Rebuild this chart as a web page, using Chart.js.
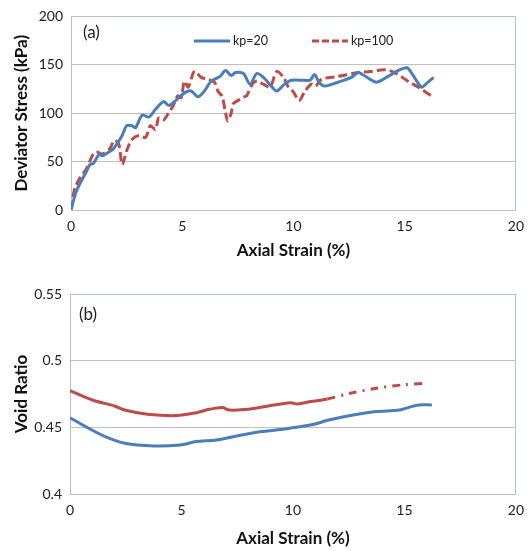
<!DOCTYPE html>
<html>
<head>
<meta charset="utf-8">
<script src="https://cdn.jsdelivr.net/npm/chart.js@4"></script>
<style>
	body { margin: 0; background: #fff; }
	canvas { display: block; }
</style>
</head>
<body>
<canvas id="chartA" width="532" height="270"></canvas>
<canvas id="chartB" width="532" height="281"></canvas>
<script>
// (a) deviator stress vs axial strain
const strainA20 = [0, 0.25, 0.7, 0.85, 1.0, 1.28, 1.4, 1.7, 1.9, 2.3, 2.5, 2.75, 2.9, 3.2, 3.5, 3.8, 4.16, 4.4, 4.7, 5.1, 5.4, 5.7, 6.0, 6.3, 6.7, 6.95, 7.2, 7.4, 7.75, 8.05, 8.35, 8.65, 9.0, 9.25, 9.6, 9.9, 10.5, 10.75, 10.95, 11.15, 11.4, 12.0, 12.6, 12.9, 13.1, 13.45, 13.75, 14.25, 14.7, 15.1, 15.3, 15.75, 16.0, 16.3]
const stressA20 = [0, 20, 40, 47, 48, 58, 56, 60, 63, 77, 87, 87, 85, 98, 96, 104, 112, 108, 113, 121, 123, 117, 123, 133, 138, 144, 139, 142, 141, 130, 141, 137, 128, 123, 130, 134, 134, 134, 140, 132, 128, 132, 137, 142, 140, 135, 132, 138, 144, 147, 142, 127, 131, 137]
const strainA100 = [0, 0.1, 0.18, 0.4, 0.7, 0.98, 1.14, 1.4, 1.73, 1.95, 2.15, 2.3, 2.53, 2.75, 3.05, 3.35, 3.57, 3.8, 3.94, 4.16, 4.38, 4.6, 4.8, 4.95, 5.1, 5.27, 5.5, 5.6, 5.85, 6.15, 6.45, 6.6, 6.8, 6.95, 7.05, 7.2, 7.3, 7.5, 7.8, 7.9, 8.15, 8.35, 8.65, 8.95, 9.25, 9.55, 9.75, 10.0, 10.25, 10.5, 10.8, 11.0, 11.25, 12.0, 12.9, 13.45, 14.1, 14.55, 15.15, 15.6, 16.2]
const stressA100 = [0, 15, 23, 33, 43, 57, 60, 58, 63, 72, 68, 47, 63, 73, 77, 75, 87, 83, 95, 93, 100, 108, 118, 116, 133, 127, 142, 143, 137, 135, 132, 123, 117, 100, 92, 100, 110, 113, 117, 118, 130, 133, 130, 127, 143, 137, 128, 122, 113, 122, 130, 128, 135, 138, 142, 143, 145, 142, 133, 127, 118]

// (b) void ratio vs axial strain
const strainB20 = [0, 0.7, 1.58, 2.46, 3.77, 4.94, 5.67, 6.55, 7.72, 8.6, 9.65, 10.3, 10.96, 11.55, 12.7, 13.73, 14.78, 15.2, 15.65, 16.23]
const voidB20 = [0.4572, 0.4505, 0.443, 0.438, 0.436, 0.4368, 0.4393, 0.4405, 0.4443, 0.4468, 0.4488, 0.4505, 0.4523, 0.4553, 0.4593, 0.4618, 0.463, 0.465, 0.4668, 0.4668]
const strainB100 = [0, 1.0, 2.0, 2.45, 3.47, 4.8, 5.67, 6.26, 6.84, 7.13, 8.0, 8.89, 9.9, 10.2, 10.8, 11.55, 12.57, 13.74, 14.9, 15.93]
const voidB100 = [0.4775, 0.4705, 0.466, 0.463, 0.4598, 0.4588, 0.461, 0.4635, 0.4648, 0.463, 0.4635, 0.466, 0.4685, 0.4675, 0.4693, 0.4713, 0.4755, 0.4793, 0.4818, 0.483]

const xTicks = [0, 5, 10, 15, 20]
const yTicksA = [0, 50, 100, 150, 200]
const yTicksB = [0.4, 0.45, 0.5, 0.55]
const seriesNames = ['kp=20', 'kp=100']

const BLUE = '#4a7ebb'
const RED = '#be4b48'
const GRID = '#c0c0c0'
const EDGE = '#a9c4e2'
const FONT = 'Lato, "Open Sans", sans-serif'

const toPoints = (xs, ys) => xs.map((x, i) => ({ x: x, y: ys[i] }))

const fixTicks = (list) => (scale) => {
	scale.ticks = list.map((v) => ({ value: v }))
}

// panel letter + legend drawn on top of the plot
const extras = (label, legend) => ({
	id: 'extras',
	afterDraw(chart) {
		const ctx = chart.ctx
		ctx.save()
		ctx.fillStyle = '#222'
		ctx.font = '17px ' + FONT
		ctx.textBaseline = 'middle'
		ctx.fillText(label.text, label.x, label.y)
		if (legend) {
			ctx.font = '12.5px ' + FONT
			legend.forEach((item) => {
				ctx.strokeStyle = item.color
				ctx.lineWidth = 3
				ctx.setLineDash(item.dash)
				ctx.beginPath()
				ctx.moveTo(item.x, item.y)
				ctx.lineTo(item.x + 36, item.y)
				ctx.stroke()
				ctx.setLineDash([])
				ctx.fillStyle = '#222'
				ctx.fillText(item.text, item.x + 39, item.y)
			})
		}
		ctx.restore()
	},
})

const makeChart = (id, opts) => {
	const ctx = document.getElementById(id).getContext('2d')
	return new Chart(ctx, {
		type: 'line',
		data: { datasets: opts.datasets },
		options: {
			responsive: false,
			animation: false,
			devicePixelRatio: 1,
			layout: { padding: opts.padding },
			elements: { point: { radius: 0 } },
			plugins: { legend: { display: false }, tooltip: { enabled: false } },
			scales: {
				x: {
					type: 'linear',
					min: 0,
					max: 20,
					afterBuildTicks: fixTicks(xTicks),
					afterFit: (s) => { s.height = opts.xHeight },
					grid: {
						drawTicks: false,
						color: (c) => (c.tick && c.tick.value === 20 ? EDGE : 'rgba(0,0,0,0)'),
					},
					border: { color: GRID, width: 1 },
					ticks: { padding: 8, color: '#222', font: { family: FONT, size: 14 } },
					title: {
						display: true,
						text: 'Axial Strain (%)',
						color: '#111',
						font: { family: FONT, size: 17, weight: 'bold' },
						padding: { top: 0, bottom: opts.xTitlePad },
					},
				},
				y: {
					min: opts.yMin,
					max: opts.yMax,
					afterBuildTicks: fixTicks(opts.yTicks),
					afterFit: (s) => { s.width = opts.yWidth },
					grid: {
						drawTicks: false,
						color: (c) => (c.tick && c.tick.value === opts.yMax ? EDGE : GRID),
					},
					border: { color: GRID, width: 1 },
					ticks: {
						padding: 8,
						color: '#222',
						font: { family: FONT, size: 14 },
						callback: (v) => String(+v.toFixed(2)),
					},
					title: {
						display: true,
						text: opts.yTitle,
						color: '#111',
						font: { family: FONT, size: 17, weight: 'bold' },
						padding: { top: 11, bottom: 0 },
					},
				},
			},
		},
		plugins: [extras(opts.label, opts.legend)],
	})
}

makeChart('chartA', {
	padding: { left: 0, right: 9, top: 10, bottom: 0 },
	xHeight: 60,
	yWidth: 71,
	xTitlePad: 9,
	yMin: 0,
	yMax: 200,
	yTicks: yTicksA,
	yTitle: 'Deviator Stress (kPa)',
	label: { text: '(a)', x: 83, y: 33 },
	legend: [
		{ text: seriesNames[0], x: 194, y: 41, color: BLUE, dash: [] },
		{ text: seriesNames[1], x: 312, y: 41, color: RED, dash: [7, 3] },
	],
	datasets: [
		{
			label: seriesNames[0],
			data: toPoints(strainA20, stressA20),
			borderColor: BLUE,
			borderWidth: 3,
			tension: 0.3,
		},
		{
			label: seriesNames[1],
			data: toPoints(strainA100, stressA100),
			borderColor: RED,
			borderWidth: 3,
			borderDash: [9, 4],
			tension: 0.3,
		},
	],
})

makeChart('chartB', {
	padding: { left: 0, right: 6, top: 24, bottom: 0 },
	xHeight: 57,
	yWidth: 70,
	xTitlePad: 2,
	yMin: 0.4,
	yMax: 0.55,
	yTicks: yTicksB,
	yTitle: 'Void Ratio',
	label: { text: '(b)', x: 79, y: 45 },
	legend: null,
	datasets: [
		{
			label: seriesNames[0],
			data: toPoints(strainB20, voidB20),
			borderColor: BLUE,
			borderWidth: 3,
			tension: 0.3,
		},
		{
			label: seriesNames[1],
			data: toPoints(strainB100, voidB100),
			borderColor: RED,
			borderWidth: 3,
			tension: 0.3,
			segment: {
				borderDash: (c) => (c.p0.parsed.x >= 11.5 ? [8, 6, 2, 6] : undefined),
			},
		},
	],
})
</script>
</body>
</html>
